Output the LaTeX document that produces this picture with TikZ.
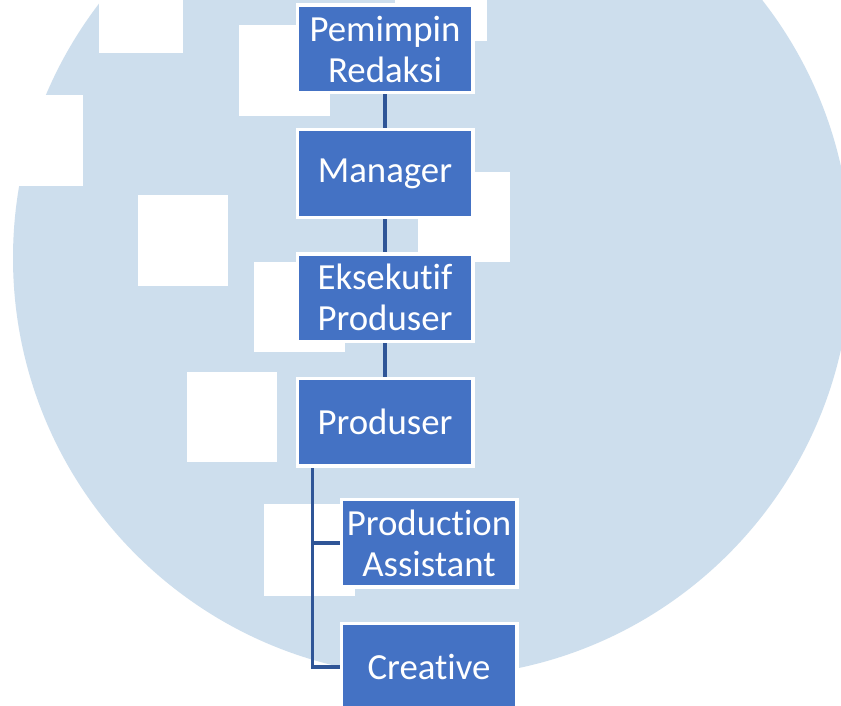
\documentclass[tikz,border=0pt]{standalone}
\usepackage{fontspec}
\setmainfont{Carlito}[Ligatures={NoCommon}]
\definecolor{circblue}{RGB}{205,222,237}
\definecolor{boxblue}{RGB}{68,114,196}
\definecolor{lineblue}{RGB}{47,85,151}
\pgfdeclarelayer{back}
\pgfdeclarelayer{mid}
\pgfsetlayers{back,mid,main}
\tikzset{
  orgbox/.style={rectangle, fill=boxblue, draw=white, line width=3.5pt,
    minimum width=175.5pt, minimum height=87.5pt, inner sep=0pt,
    align=center, text=white, font=\fontsize{36.8}{41}\selectfont},
  conn/.style={draw=lineblue, line width=3.2pt},
  wsq/.style={fill=white, draw=none}
}
\begin{document}
\begin{tikzpicture}[x=1pt, y=-1pt]
\useasboundingbox (0,0) rectangle (841,706);
\clip (0,0) rectangle (841,706);
\begin{pgfonlayer}{back}
  \fill[white] (0,0) rectangle (841,706);
  \fill[circblue] (432,258) circle (419);
  \fill[wsq] (99,-40) rectangle (183,53);
  \fill[wsq] (239,25) rectangle (330,116);
  \fill[wsq] (395,-50) rectangle (487,41);
  \fill[wsq] (-8,95) rectangle (83,186);
  \fill[wsq] (138,195) rectangle (228,286);
  \fill[wsq] (418,172) rectangle (510,262);
  \fill[wsq] (254,262) rectangle (345,352);
  \fill[wsq] (187,372) rectangle (277,462);
  \fill[wsq] (264,504) rectangle (355,596);
\end{pgfonlayer}

\node[orgbox] (b1) at (385,49) {Pemimpin\\Redaksi};
\node[orgbox] (b2) at (385,173.5) {Manager};
\node[orgbox] (b3) at (385,297.5) {Eksekutif\\Produser};
\node[orgbox] (b4) at (385,422) {Produser};
\node[orgbox] (b5) at (429,543) {Production\\Assistant};
\node[orgbox] (b6) at (429,667) {Creative};

\begin{pgfonlayer}{mid}
  \draw[conn] (b1.south) -- (b2.north);
  \draw[conn] (b2.south) -- (b3.north);
  \draw[conn] (b3.south) -- (b4.north);
  \coordinate (trunk) at ([xshift=17pt]b4.south west);
  \draw[conn] (trunk) |- (b5.west);
  \draw[conn] (trunk) |- (b6.west);
\end{pgfonlayer}
\end{tikzpicture}
\end{document}
